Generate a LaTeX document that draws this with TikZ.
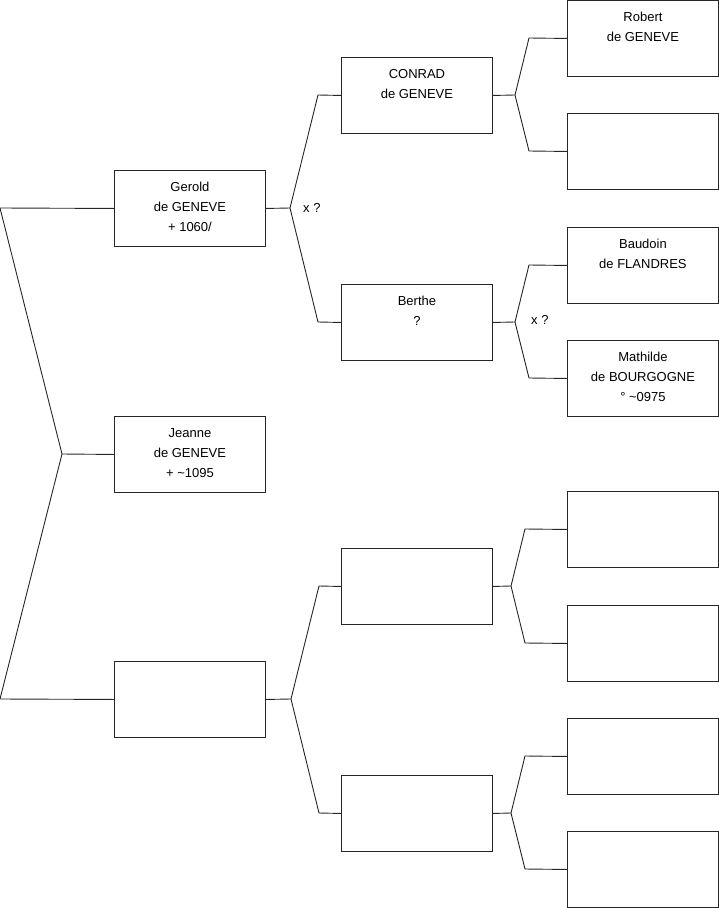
\documentclass[tikz,border=0pt]{standalone}
\usepackage{fontspec}
\setmainfont{Liberation Sans}
\newcommand\fstrut{\rule{0pt}{11pt}}
\begin{document}
\begin{tikzpicture}[x=1pt,y=-1pt,
  pbox/.style={draw=black!85, line width=0.9pt, rectangle, minimum width=151pt, minimum height=76pt, inner sep=0pt, anchor=north west},
  txt/.style={font=\fontsize{13}{20}\selectfont, align=center, inner sep=0pt, anchor=north},
  lbl/.style={font=\fontsize{13}{20}\selectfont, inner sep=0pt, anchor=west},
  conn/.style={draw=black!85, line width=0.9pt}]
\useasboundingbox (0,0) rectangle (719,908);
% boxes
\node[pbox] (g1) at (114,170) {};
\node[pbox] (g1b) at (114,416) {};
\node[pbox] (g1c) at (114,661) {};
\node[pbox] (c2a) at (341,57) {};
\node[pbox] (c2b) at (341,284) {};
\node[pbox] (c2c) at (341,548) {};
\node[pbox] (c2d) at (341,775) {};
\node[pbox] (c3a) at (567,0) {};
\node[pbox] (c3b) at (567,113) {};
\node[pbox] (c3c) at (567,227) {};
\node[pbox] (c3d) at (567,340) {};
\node[pbox] (c3e) at (567,491) {};
\node[pbox] (c3f) at (567,605) {};
\node[pbox] (c3g) at (567,718) {};
\node[pbox] (c3h) at (567,831) {};
% texts
\node[txt] (g1t) at ([yshift=-10pt]g1.north) {\fstrut Gerold\\de GENEVE\\+ 1060/};
\node[txt] (g1bt) at ([yshift=-10pt]g1b.north) {\fstrut Jeanne\\de GENEVE\\+ \textasciitilde1095};
\node[txt] (c2at) at ([yshift=-10pt]c2a.north) {\fstrut CONRAD\\de GENEVE};
\node[txt] (c2bt) at ([yshift=-10pt]c2b.north) {\fstrut Berthe\\?};
\node[txt] (c3at) at ([yshift=-10pt]c3a.north) {\fstrut Robert\\de GENEVE};
\node[txt] (c3ct) at ([yshift=-10pt]c3c.north) {\fstrut Baudoin\\de FLANDRES};
\node[txt] (c3dt) at ([yshift=-10pt]c3d.north) {\fstrut Mathilde\\de BOURGOGNE\\° \textasciitilde0975};
\node[lbl] (x1) at (303,208) {x ?};
\node[lbl] (x2) at (531,320) {x ?};
% junction coordinates
\coordinate (r1) at (0,208);
\coordinate (r2) at (62,454);
\coordinate (r3) at (0,699);
\coordinate (j1) at (290,208);
\coordinate (b1) at (318,95);
\coordinate (b2) at (318,322);
\coordinate (j2) at (291,699);
\coordinate (b3) at (319,586);
\coordinate (b4) at (319,813);
\coordinate (j3) at (515,95);
\coordinate (b5) at (529,38);
\coordinate (b6) at (529,151);
\coordinate (j4) at (515,322);
\coordinate (b7) at (529,265);
\coordinate (b8) at (529,378);
\coordinate (j5) at (511,586);
\coordinate (b9) at (525,529);
\coordinate (b10) at (525,643);
\coordinate (j6) at (511,813);
\coordinate (b11) at (525,756);
\coordinate (b12) at (525,869);
% connectors
\draw[conn] (g1.west) -- (r1) -- (r2) -- (r3) -- (g1c.west);
\draw[conn] (r2) -- (g1b.west);
\draw[conn] (g1.east) -- (j1);
\draw[conn] (c2a.west) -- (b1) -- (j1) -- (b2) -- (c2b.west);
\draw[conn] (g1c.east) -- (j2);
\draw[conn] (c2c.west) -- (b3) -- (j2) -- (b4) -- (c2d.west);
\draw[conn] (c2a.east) -- (j3);
\draw[conn] (c3a.west) -- (b5) -- (j3) -- (b6) -- (c3b.west);
\draw[conn] (c2b.east) -- (j4);
\draw[conn] (c3c.west) -- (b7) -- (j4) -- (b8) -- (c3d.west);
\draw[conn] (c2c.east) -- (j5);
\draw[conn] (c3e.west) -- (b9) -- (j5) -- (b10) -- (c3f.west);
\draw[conn] (c2d.east) -- (j6);
\draw[conn] (c3g.west) -- (b11) -- (j6) -- (b12) -- (c3h.west);
\end{tikzpicture}
\end{document}
